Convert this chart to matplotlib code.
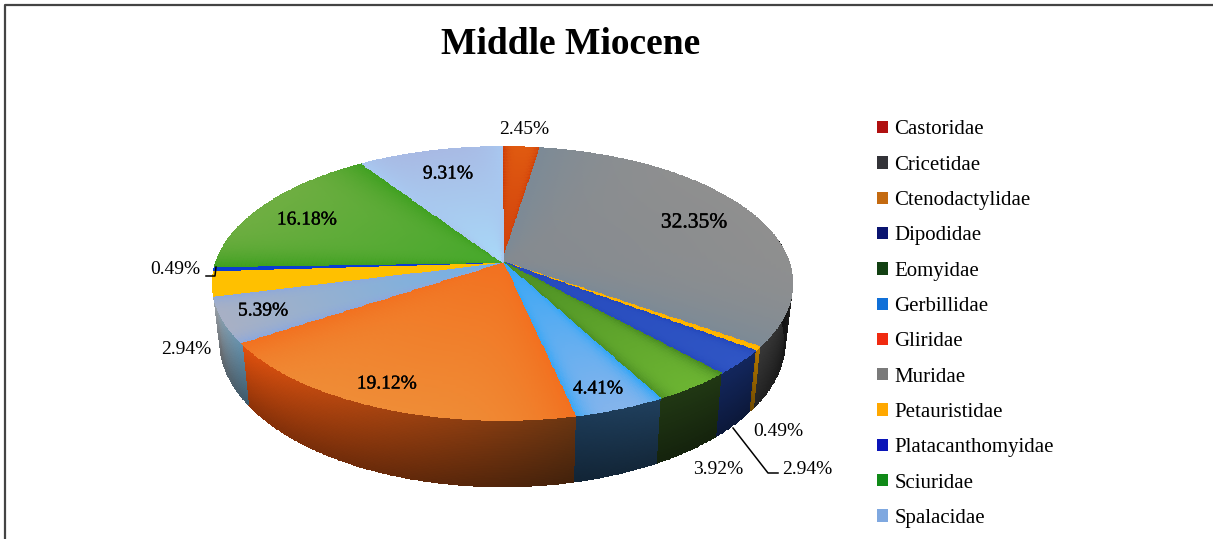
import numpy as np
import matplotlib.pyplot as plt
from matplotlib.colors import to_rgb
from matplotlib.patches import Patch
import matplotlib.patheffects as pe

plt.rcParams['font.family'] = ['Liberation Serif', 'DejaVu Serif']

families = ['Castoridae', 'Cricetidae', 'Ctenodactylidae', 'Dipodidae', 'Eomyidae', 'Gerbillidae',
            'Gliridae', 'Muridae', 'Petauristidae', 'Platacanthomyidae', 'Sciuridae', 'Spalacidae']
shares = [2.45, 32.35, 0.49, 2.94, 3.92, 4.41, 19.12, 5.39, 2.94, 0.49, 16.18, 9.31]
title = 'Middle Miocene'

legend_colors = ['#B01010', '#333338', '#C46A10', '#0A1470', '#124012', '#1070D8',
                 '#F02A10', '#7A7A7A', '#FFA800', '#0A14B8', '#108A18', '#7FA8E0']
# top face colours: near the centre, near the rim, along the slice edges
top_inner = ['#D0400C', '#848A90', '#FFB400', '#2448BC', '#4A8C22', '#34A6F6',
             '#F2701F', '#6FB0E8', '#FFC000', '#0A3CD2', '#45A82A', '#A8D8F8']
top_outer = ['#E05A10', '#8F8F8F', '#FFB800', '#2F55C4', '#6CB432', '#84B4EC',
             '#EF8C36', '#A8B0C4', '#FFC000', '#0A3CD2', '#6FAE42', '#A8BAE4']
top_edge = ['#CC3C08', '#7C8A96', '#FFB000', '#2448BC', '#4A8C22', '#34A6F6',
            '#F2701F', '#8CA8DC', '#FFC000', '#0A3CD2', '#3FA020', '#A8C8F0']
# side wall colours, clockwise start and end of each slice, None when it can't be seen
wall_start = [None, '#141414', '#B87A00', '#13275E', '#213814', '#20405E',
              '#6B3612', '#6492AE', None, None, None, None]
wall_end = [None, '#3A3A3A', '#A06800', '#13275E', '#213814', '#1C3A56',
            '#E6520E', '#A4ACB4', None, None, None, None]

# pie geometry in pixels, with the perspective of the spreadsheet 3D pie
cx, cy = 502.5, 262
R, a, k = 286, 133, 0.1575
depth = 56


def project(r, theta, z=0.0):
    t = np.radians(theta)
    u, v = r * np.sin(t), r * np.cos(t)
    den = 1 + k * v
    x = cx + R * u / den * (1 - 0.025 * z)
    y = cy - a * v / den + z * depth / den
    return x, y


def mix(c1, c2, t):
    c1, c2 = np.array(to_rgb(c1)), np.array(to_rgb(c2))
    return c1[None, None, :] * (1 - t[..., None]) + c2[None, None, :] * t[..., None]


fig = plt.figure(figsize=(12.13, 5.39), dpi=100, facecolor='white')
ax = fig.add_axes([0, 0, 1, 1])

edges = np.concatenate([[0], np.cumsum(shares)]) / sum(shares) * 360

# walls first, the top face goes over them
for i in range(len(shares)):
    if wall_start[i] is None:
        continue
    t0 = max(edges[i], 80)
    th = np.linspace(t0, edges[i + 1], max(int(edges[i + 1] - t0) * 3, 3))
    zz = np.linspace(0, 1, 40)
    T, Z = np.meshgrid(th, zz)
    X, Y = project(1.0, T, Z)
    tc = ((T[:-1, :-1] - t0) / (edges[i + 1] - t0))
    col = mix(wall_start[i], wall_end[i], tc)
    shade = 1 - 0.38 * Z[:-1, :-1]
    ax.pcolormesh(X, Y, np.clip(col * shade[..., None], 0, 1), shading='flat',
                  edgecolor='face', linewidth=0.3, zorder=2)

for i in range(len(shares)):
    th = np.linspace(edges[i], edges[i + 1], max(int((edges[i + 1] - edges[i]) * 3), 4))
    rr = np.linspace(0, 1, 70)
    T, Rr = np.meshgrid(th, rr)
    X, Y = project(Rr, T)
    tc = ((T[:-1, :-1] - edges[i]) / (edges[i + 1] - edges[i]))
    s = np.abs(2 * tc - 1) ** 3.5
    col = mix(top_inner[i], top_outer[i], Rr[:-1, :-1])
    col = col * (1 - s[..., None]) + np.array(to_rgb(top_edge[i])) * s[..., None]
    ax.pcolormesh(X, Y, col, shading='flat', edgecolor='face', linewidth=0.3, zorder=3)

# value labels, placed as in the reference
label_xy = [(524, 129), (694, 223), (778, 432), (807, 469), (718, 469), (598, 389),
            (387, 384), (263, 311), (186, 350), (175, 270), (307, 220), (448, 174)]
on_pie = [False, True, False, False, False, True, True, True, False, False, True, True]
for i, v in enumerate(shares):
    txt = ax.text(label_xy[i][0], label_xy[i][1], f'{v:.2f}%', ha='center', va='center',
                  fontsize=15.5 if i == 1 else 14, color='black', zorder=5)
    if on_pie[i]:
        txt.set_path_effects([pe.withStroke(linewidth=0.25, foreground='black')])

# leader lines
ax.plot([206, 215, 216], [276, 276, 267], color='black', lw=1.1, zorder=4)
ax.plot([733, 768, 778], [428, 473, 473], color='black', lw=1.1, zorder=4)

ax.text(571, 45, title, ha='center', va='center', fontsize=27, fontweight='bold', zorder=5)

handles = [Patch(facecolor=c, edgecolor='none') for c in legend_colors]
ax.legend(handles, families, loc='upper left', bbox_to_anchor=(877 / 1213, 1 - 120.5 / 539),
          frameon=False, fontsize=15, handlelength=0.53, handleheight=0.53,
          handletextpad=0.3, labelspacing=0.783, borderpad=0, borderaxespad=0)

# picture frame
ax.plot([5, 5, 1213], [539, 5, 5], color='#444444', lw=1.6, zorder=6)

ax.set_xlim(0, 1213)
ax.set_ylim(539, 0)
ax.axis('off')
fig.savefig('out.png', dpi=100)
